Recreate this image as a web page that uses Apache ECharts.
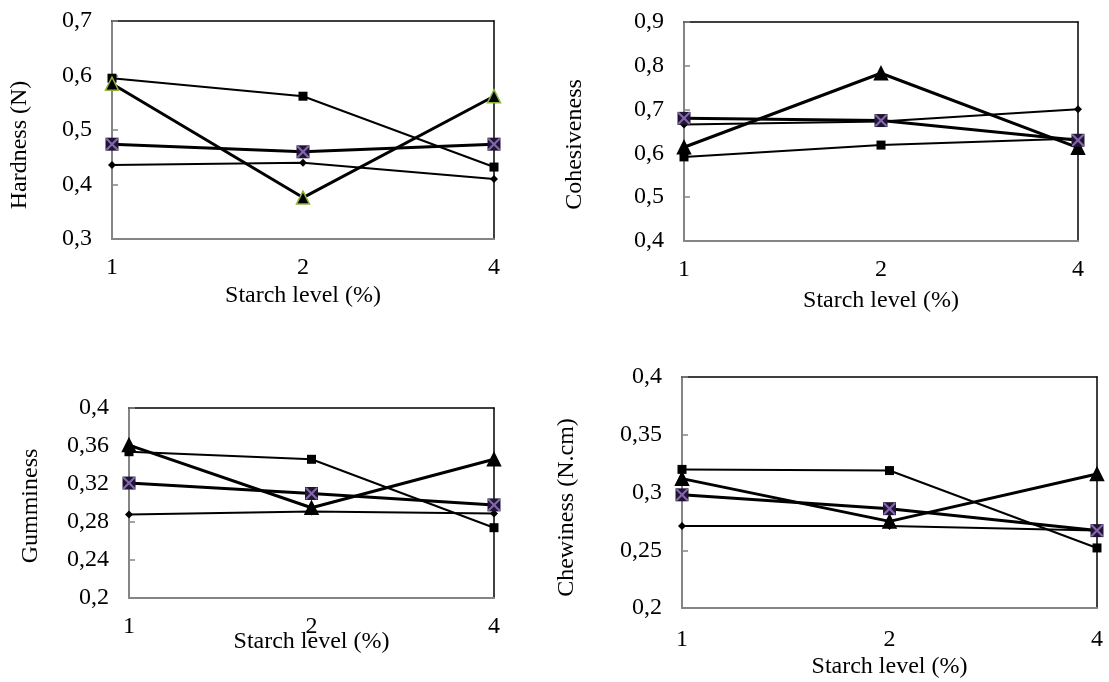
<!DOCTYPE html>
<html>
<head>
<meta charset="utf-8">
<script src="https://cdn.jsdelivr.net/npm/echarts@6/dist/echarts.min.js"></script>
<style>
html,body{margin:0;padding:0;background:#fff;}
#c{width:1109px;height:682px;}
</style>
</head>
<body>
<div id="c"></div>
<script>
// ---- Data ----
const categories = ['1', '2', '4'];
const xAxisTitle = 'Starch level (%)';

const hardnessDiamond  = [0.436, 0.440, 0.410];
const hardnessSquare   = [0.595, 0.562, 0.432];
const hardnessTriangle = [0.585, 0.376, 0.562];
const hardnessCross    = [0.474, 0.460, 0.474];

const cohesDiamond  = [0.666, 0.673, 0.701];
const cohesSquare   = [0.592, 0.619, 0.634];
const cohesTriangle = [0.614, 0.783, 0.613];
const cohesCross    = [0.680, 0.675, 0.630];

const gumDiamond  = [0.288, 0.291, 0.289];
const gumSquare   = [0.354, 0.346, 0.274];
const gumTriangle = [0.361, 0.295, 0.346];
const gumCross    = [0.321, 0.310, 0.298];

const chewDiamond  = [0.271, 0.271, 0.267];
const chewSquare   = [0.320, 0.319, 0.252];
const chewTriangle = [0.312, 0.275, 0.316];
const chewCross    = [0.298, 0.286, 0.267];

const yTitles = ['Hardness (N)', 'Cohesiveness', 'Gumminess', 'Chewiness (N.cm)'];
const yRanges = [[0.3, 0.7, 0.1], [0.4, 0.9, 0.1], [0.2, 0.4, 0.04], [0.2, 0.4, 0.05]];

// ---- Layout ----
const FONT = 'Liberation Serif';
const FS = 24;
const panels = [
  { grid: {left: 112, top: 21, width: 382, height: 218}, yGap: 80, xGap: 45, xMargin: 17, namePad: 30,
    d: hardnessDiamond, s: hardnessSquare, t: hardnessTriangle, x: hardnessCross, triBorder: '#8db43e' },
  { grid: {left: 684, top: 22, width: 394, height: 219}, yGap: 97, xGap: 48, xMargin: 17, namePad: 26,
    d: cohesDiamond, s: cohesSquare, t: cohesTriangle, x: cohesCross, triBorder: '#000' },
  { grid: {left: 129, top: 408, width: 365, height: 190}, yGap: 86, xGap: 32, xMargin: 17, namePad: 6,
    d: gumDiamond, s: gumSquare, t: gumTriangle, x: gumCross, triBorder: '#000' },
  { grid: {left: 682, top: 377, width: 415, height: 231}, yGap: 103, xGap: 47, xMargin: 20, namePad: 30,
    d: chewDiamond, s: chewSquare, t: chewTriangle, x: chewCross, triBorder: '#000' }
];

const fmt = v => (Math.round(v * 1000) / 1000).toString().replace('.', ',');
const XPATH = 'path://M0,0 L2.5,0 L10,7.5 L17.5,0 L20,0 L20,2.5 L12.5,10 L20,17.5 L20,20 L17.5,20 L10,12.5 L2.5,20 L0,20 L0,17.5 L7.5,10 L0,2.5 Z';

const grids = [], xAxes = [], yAxes = [], series = [];
panels.forEach((p, i) => {
  grids.push(Object.assign({containLabel: false}, p.grid));
  const [mn, mx, iv] = yRanges[i];
  xAxes.push({
    gridIndex: i, type: 'category', data: categories, boundaryGap: false, position: 'bottom',
    axisLine: {lineStyle: {color: '#858585', width: 2}}, axisTick: {show: false},
    axisLabel: {fontFamily: FONT, fontSize: FS, color: '#000', margin: p.xMargin},
    name: xAxisTitle, nameLocation: 'middle', nameGap: p.xGap, nameMoveOverlap: false,
    nameTextStyle: {fontFamily: FONT, fontSize: FS, color: '#000'}
  });
  xAxes.push({
    gridIndex: i, type: 'category', data: categories, boundaryGap: false, position: 'top',
    axisLine: {lineStyle: {color: '#000', width: 1.5}}, axisTick: {show: false}, axisLabel: {show: false}
  });
  yAxes.push({
    gridIndex: i, type: 'value', min: mn, max: mx, interval: iv, position: 'left',
    axisLine: {show: true, lineStyle: {color: '#858585', width: 2}},
    axisTick: {show: true, inside: true, length: 6, lineStyle: {color: '#858585', width: 1.5}},
    splitLine: {show: false},
    axisLabel: {fontFamily: FONT, fontSize: FS, color: '#000', margin: 20, formatter: fmt},
    name: yTitles[i], nameLocation: 'middle', nameGap: p.yGap, nameRotate: 90, nameMoveOverlap: false,
    nameTextStyle: {fontFamily: FONT, fontSize: FS, color: '#000', padding: [0, p.namePad, 0, 0]}
  });
  yAxes.push({
    gridIndex: i, type: 'value', min: mn, max: mx, interval: iv, position: 'right',
    axisLine: {show: true, lineStyle: {color: '#000', width: 1.5}},
    axisTick: {show: false}, axisLabel: {show: false}, splitLine: {show: false}
  });
  const xi = i * 2, yi = i * 2;
  const base = {type: 'line', xAxisIndex: xi, yAxisIndex: yi, clip: false, animation: false, showAllSymbol: true};
  series.push(Object.assign({}, base, {
    data: p.d, symbol: 'diamond', symbolSize: 8,
    lineStyle: {color: '#000', width: 2}, itemStyle: {color: '#000'}
  }));
  series.push(Object.assign({}, base, {
    data: p.s, symbol: 'rect', symbolSize: 9,
    lineStyle: {color: '#000', width: 2}, itemStyle: {color: '#000'}
  }));
  series.push(Object.assign({}, base, {
    data: p.t, symbol: 'triangle', symbolSize: 13,
    lineStyle: {color: '#000', width: 3}, itemStyle: {color: '#000', borderColor: p.triBorder, borderWidth: 1.5}
  }));
  series.push(Object.assign({}, base, {
    data: p.x, symbol: 'rect', symbolSize: 13,
    lineStyle: {color: '#000', width: 3}, itemStyle: {color: '#1e1630'}
  }));
  series.push(Object.assign({}, base, {
    data: p.x, symbol: XPATH, symbolSize: 12, lineStyle: {width: 0, opacity: 0},
    itemStyle: {color: '#8466b0'}, silent: true
  }));
});

const chart = echarts.init(document.getElementById('c'), null, {renderer: 'canvas'});
chart.setOption({
  animation: false,
  backgroundColor: '#fff',
  grid: grids, xAxis: xAxes, yAxis: yAxes, series: series
});
</script>
</body>
</html>
